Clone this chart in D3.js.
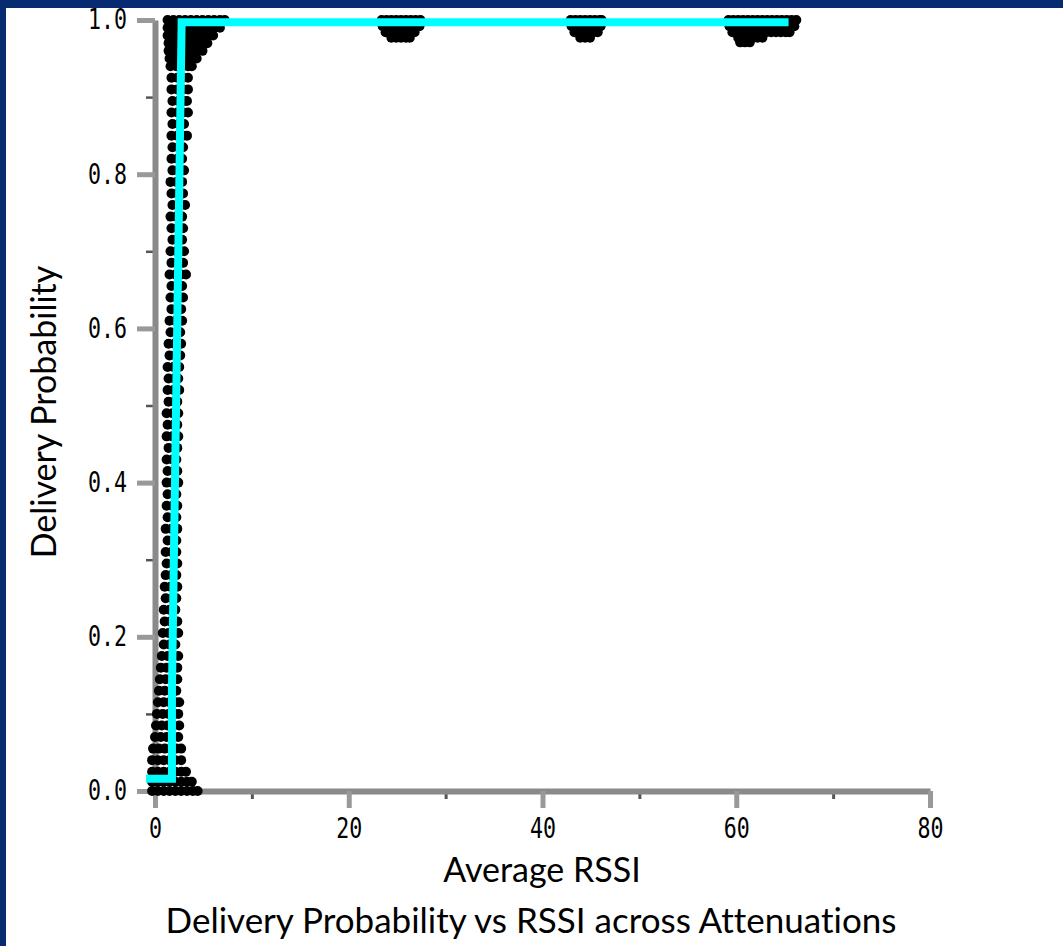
<!DOCTYPE html>
<html>
<head>
<meta charset="utf-8">
<script src="https://cdn.jsdelivr.net/npm/d3@7"></script>
<style>
  html, body { margin: 0; padding: 0; background: #fff; overflow: hidden; }
  svg { display: block; }
  .tick-label { font-family: "DejaVu Sans Mono", monospace; font-size: 28px; fill: #000; }
  .axis-title { font-family: Lato, "Open Sans", sans-serif; fill: #000; font-variant-ligatures: none; font-feature-settings: "liga" 0; }
</style>
</head>
<body>
<svg id="main-chart"></svg>
<script>
// Axis ticks
var xMajorTicks = [0, 20, 40, 60, 80];
var xMinorTicks = [10, 30, 50, 70];
var yMajorTicks = [0, 0.2, 0.4, 0.6, 0.8, 1.0];
var yMinorTicks = [0.1, 0.3, 0.5, 0.7, 0.9];

// Scatter, low RSSI band: [delivery probability, [average RSSI values]]
var bandRows = [
  [1.000, [1.3, 1.9, 2.5, 3.1, 3.7, 4.3, 4.9, 5.5, 6.1, 6.7, 7.2]],
  [0.990, [1.3, 1.9, 2.5, 3.1, 3.7, 4.3, 4.9, 5.5, 6.1, 6.7]],
  [0.980, [1.3, 1.9, 2.5, 3.1, 3.7, 4.3, 4.9, 5.5, 6.0]],
  [0.970, [1.4, 2.0, 2.6, 3.2, 3.8, 4.4, 5.0, 5.4]],
  [0.960, [1.4, 2.0, 2.6, 3.2, 3.8, 4.4, 4.9]],
  [0.950, [1.5, 2.1, 2.7, 3.3, 3.9, 4.3]],
  [0.940, [1.6, 2.2, 2.8, 3.4, 3.8]],
  [0.925, [1.7, 2.3, 2.9, 3.4]],
  [0.910, [1.7, 2.3, 2.9, 3.4]],
  [0.895, [1.8, 2.4, 3.0, 3.3]],
  [0.880, [1.7, 2.3, 2.9, 3.4]],
  [0.865, [1.8, 2.4, 3.0]],
  [0.850, [1.7, 2.3, 2.9, 3.3]],
  [0.835, [1.8, 2.4, 2.9]],
  [0.820, [1.7, 2.3, 2.8]],
  [0.805, [1.8, 2.4, 3.0]],
  [0.790, [1.6, 2.2, 2.8]],
  [0.775, [1.7, 2.3, 2.9]],
  [0.760, [1.8, 2.4, 3.1]],
  [0.745, [1.6, 2.2, 2.8]],
  [0.730, [1.7, 2.3, 2.9]],
  [0.715, [1.8, 2.4, 2.8]],
  [0.700, [1.6, 2.2, 3.0]],
  [0.685, [1.7, 2.3, 2.9]],
  [0.670, [1.5, 2.1, 2.7, 3.2]],
  [0.655, [1.7, 2.3, 2.8]],
  [0.640, [1.6, 2.2, 2.9]],
  [0.625, [1.7, 2.3, 2.7]],
  [0.610, [1.5, 2.1, 2.8]],
  [0.595, [1.6, 2.2, 2.6]],
  [0.580, [1.4, 2.0, 2.7]],
  [0.565, [1.5, 2.1, 2.6]],
  [0.550, [1.3, 1.9, 2.5]],
  [0.535, [1.4, 2.0, 2.4]],
  [0.520, [1.3, 1.9, 2.5]],
  [0.505, [1.4, 2.0, 2.3]],
  [0.490, [1.2, 1.8, 2.4]],
  [0.475, [1.3, 1.9, 2.3]],
  [0.460, [1.2, 1.8, 2.4]],
  [0.445, [1.4, 2.0, 2.3]],
  [0.430, [1.2, 1.8, 2.2]],
  [0.415, [1.3, 1.9, 2.3]],
  [0.400, [1.2, 1.8, 2.4]],
  [0.385, [1.3, 1.9, 2.2]],
  [0.370, [1.2, 1.8, 2.3]],
  [0.355, [1.3, 1.9, 2.2]],
  [0.340, [1.1, 1.7, 2.3]],
  [0.325, [1.3, 1.9, 2.2]],
  [0.310, [1.1, 1.7, 2.2]],
  [0.295, [1.2, 1.8, 2.3]],
  [0.280, [1.1, 1.7, 2.2]],
  [0.265, [1.0, 1.6, 2.3]],
  [0.250, [1.1, 1.7, 2.2]],
  [0.235, [0.9, 1.5, 2.1]],
  [0.220, [1.0, 1.6, 2.3]],
  [0.205, [0.8, 1.4, 2.0, 2.4]],
  [0.190, [0.9, 1.5, 2.1]],
  [0.175, [0.7, 1.3, 1.9, 2.4]],
  [0.160, [0.6, 1.2, 1.8, 2.3]],
  [0.145, [0.5, 1.1, 1.7, 2.3]],
  [0.130, [0.4, 1.0, 1.6, 2.2]],
  [0.115, [0.3, 0.9, 1.5, 2.1, 2.5]],
  [0.100, [0.2, 0.8, 1.4, 2.0, 2.4]],
  [0.085, [0.1, 0.7, 1.3, 1.9, 2.5]],
  [0.070, [0.0, 0.6, 1.2, 1.8, 2.4]],
  [0.055, [-0.2, 0.4, 1.0, 1.6, 2.2, 2.7]],
  [0.040, [-0.3, 0.3, 0.9, 1.5, 2.1, 2.7]],
  [0.025, [-0.3, 0.3, 0.9, 1.5, 2.1, 2.7, 3.2]],
  [0.012, [-0.3, 0.3, 0.9, 1.5, 2.1, 2.7, 3.3, 3.8]],
  [0.000, [-0.3, 0.3, 0.9, 1.5, 2.1, 2.7, 3.3, 3.9, 4.4]]
];

// Scatter, clusters at higher RSSI (all near probability 1)
var clusterRows = [
  [1.000, [23.4, 23.9, 24.4, 24.9, 25.4, 25.9, 26.4, 26.9, 27.4]],
  [0.992, [23.5, 24.0, 24.5, 25.0, 25.5, 26.0, 26.5, 27.0, 27.3]],
  [0.984, [23.8, 24.3, 24.8, 25.3, 25.8, 26.3, 26.8]],
  [0.977, [24.4, 24.9, 25.4, 25.9, 26.3]],
  [1.000, [42.9, 43.4, 43.9, 44.4, 44.9, 45.4, 45.9, 46.1]],
  [0.992, [43.0, 43.5, 44.0, 44.5, 45.0, 45.5, 46.0]],
  [0.984, [43.3, 43.8, 44.3, 44.8, 45.3, 45.7]],
  [0.977, [43.9, 44.4, 44.9]],
  [1.000, [59.2, 59.7, 60.2, 60.7, 61.2, 61.7, 62.2, 62.7, 63.2, 63.7, 64.2, 64.7, 65.2, 65.7, 66.2]],
  [0.992, [59.3, 59.8, 60.3, 60.8, 61.3, 61.8, 62.3, 62.8, 63.3, 63.8, 64.3, 64.8, 65.3, 65.8, 66.0]],
  [0.984, [59.6, 60.1, 60.6, 61.1, 61.6, 62.1, 62.6, 63.1, 63.6, 64.1, 64.6, 65.1, 65.5]],
  [0.977, [60.2, 60.7, 61.2, 61.7, 62.2, 62.7]],
  [0.971, [60.4, 60.9, 61.4]]
];

// Fitted curve (cyan)
var fitRssi = [-0.93, 1.75, 1.75, 2.75, 65.4];
var fitProb = [0.016, 0.016, 0.131, 0.997, 0.997];

var scatterData = [];
bandRows.concat(clusterRows).forEach(function (row) {
  row[1].forEach(function (x) {
    scatterData.push({ rssi: x, prob: row[0] });
  });
});
var fitData = fitRssi.map(function (x, i) {
  return { rssi: x, prob: fitProb[i] };
});

var width = 1063;
var height = 946;

var svg = d3.select("#main-chart").attr("width", width).attr("height", height);

svg.append("rect").attr("width", width).attr("height", height).attr("fill", "#fff");

// Create D3 scale objects.
var xScale = d3.scaleLinear().domain([0, 80]).range([155, 930]);
var yScale = d3.scaleLinear().domain([0, 1]).range([791, 20]);

// Minor ticks first (drawn under the major axis lines)
svg.append("g")
  .attr("class", "x minor")
  .attr("transform", "translate(0," + yScale(0) + ")")
  .call(d3.axisBottom(xScale).tickValues(xMinorTicks).tickSize(8).tickFormat(""))
  .call(g => g.select(".domain").remove())
  .call(g => g.selectAll(".tick line").attr("stroke", "#555").attr("stroke-width", 3));

svg.append("g")
  .attr("class", "y minor")
  .attr("transform", "translate(" + xScale(0) + ",0)")
  .call(d3.axisLeft(yScale).tickValues(yMinorTicks).tickSize(9).tickFormat(""))
  .call(g => g.select(".domain").remove())
  .call(g => g.selectAll(".tick line").attr("stroke", "#555").attr("stroke-width", 2.5));

// Major axes
var xAxis = d3.axisBottom(xScale)
  .tickValues(xMajorTicks)
  .tickSize(17)
  .tickSizeOuter(0)
  .tickPadding(10)
  .tickFormat(d3.format("d"));

var yAxis = d3.axisLeft(yScale)
  .tickValues(yMajorTicks)
  .tickSize(18)
  .tickSizeOuter(0)
  .tickPadding(10)
  .tickFormat(d3.format(".1f"));

function styleAxis(g) {
  g.select(".domain").attr("stroke", "#8a8a8a").attr("stroke-width", 6);
  g.selectAll(".tick line").attr("stroke", "#999").attr("stroke-width", 5);
  g.selectAll(".tick text")
    .attr("class", "tick-label")
    .attr("font-family", null)
    .attr("font-size", null)
    .attr("fill", null)
    .attr("textLength", function () { return this.textContent.length * 13; })
    .attr("lengthAdjust", "spacingAndGlyphs");
}

svg.append("g")
  .attr("class", "x axis")
  .attr("transform", "translate(0," + yScale(0) + ")")
  .call(xAxis)
  .call(styleAxis);

svg.append("g")
  .attr("class", "y axis")
  .attr("transform", "translate(" + xScale(0) + ",0)")
  .call(yAxis)
  .call(styleAxis);

// Scatter points
svg.append("g")
  .attr("class", "points")
  .selectAll("circle")
  .data(scatterData)
  .enter()
  .append("circle")
  .attr("cx", d => xScale(d.rssi))
  .attr("cy", d => yScale(d.prob))
  .attr("r", 5)
  .attr("fill", "#000");

// Fitted line
var line = d3.line()
  .x(d => xScale(d.rssi))
  .y(d => yScale(d.prob));

svg.append("path")
  .datum(fitData)
  .attr("d", line)
  .attr("fill", "none")
  .attr("stroke", "#00ffff")
  .attr("stroke-width", 8)
  .attr("stroke-linejoin", "miter");

// Titles
svg.append("text")
  .attr("class", "axis-title")
  .attr("x", 542)
  .attr("y", 882)
  .attr("text-anchor", "middle")
  .attr("font-size", 34)
  .text("Average RSSI");

svg.append("text")
  .attr("class", "axis-title")
  .attr("transform", "translate(56,412) rotate(-90)")
  .attr("text-anchor", "middle")
  .attr("font-size", 34)
  .text("Delivery Probability");

svg.append("text")
  .attr("class", "axis-title")
  .attr("x", 531)
  .attr("y", 933)
  .attr("text-anchor", "middle")
  .attr("font-size", 35)
  .text("Delivery Probability vs RSSI across Attenuations");

// Slide frame (top and left)
svg.append("rect").attr("x", 0).attr("y", 0).attr("width", width).attr("height", 8).attr("fill", "#062b70");
svg.append("rect").attr("x", 0).attr("y", 0).attr("width", 6).attr("height", height).attr("fill", "#062b70");
</script>
</body>
</html>
